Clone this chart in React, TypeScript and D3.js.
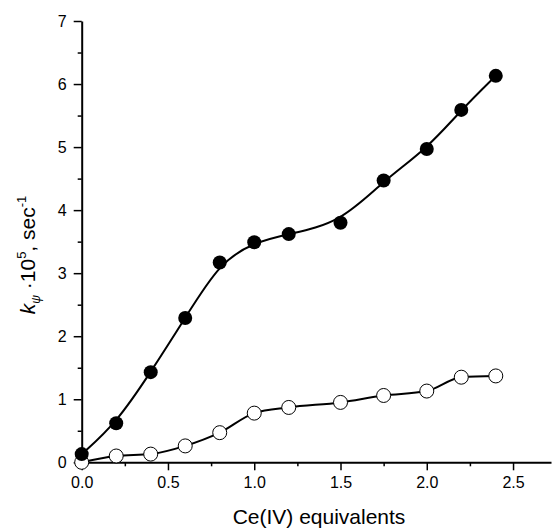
import React, { useEffect, useRef } from 'react';
import * as d3 from 'd3';

const xValues = [0, 0.2, 0.4, 0.6, 0.8, 1.0, 1.2, 1.5, 1.75, 2.0, 2.2, 2.4];
const filledValues = [0.13, 0.62, 1.43, 2.29, 3.17, 3.49, 3.62, 3.8, 4.47, 4.97, 5.59, 6.13];
const openValues = [0, 0.1, 0.13, 0.26, 0.47, 0.78, 0.87, 0.95, 1.06, 1.13, 1.35, 1.37];
const xTicks = [0, 0.5, 1.0, 1.5, 2.0, 2.5];
const xMinorTicks = [0.25, 0.75, 1.25, 1.75, 2.25];
const yTicks = [0, 1, 2, 3, 4, 5, 6, 7];
const yMinorTicks = [0.5, 1.5, 2.5, 3.5, 4.5, 5.5, 6.5];

const Chart = () => {
  const chartRef = useRef<SVGSVGElement>(null);

  useEffect(() => {
    const svg = d3.select(chartRef.current);
    svg.selectAll('*').remove();
    const font = 'Arial, "Liberation Sans", sans-serif';

    const xScale = d3.scaleLinear().domain([0, 2.72]).range([81.7, 551]);
    const yScale = d3.scaleLinear().domain([0, 7]).range([462.3, 21]);

    // minor ticks
    svg.append('g')
      .attr('transform', `translate(0,${yScale(0)})`)
      .call(d3.axisBottom(xScale).tickValues(xMinorTicks).tickSize(4).tickFormat(() => '').tickSizeOuter(0))
      .call(g => g.select('.domain').remove());
    svg.append('g')
      .attr('transform', `translate(${xScale(0)},0)`)
      .call(d3.axisLeft(yScale).tickValues(yMinorTicks).tickSize(4).tickFormat(() => '').tickSizeOuter(0))
      .call(g => g.select('.domain').remove());

    // major axes
    const xAxis = svg.append('g')
      .attr('transform', `translate(0,${yScale(0)})`)
      .call(d3.axisBottom(xScale).tickValues(xTicks).tickSize(8).tickPadding(6).tickSizeOuter(0).tickFormat(d3.format('.1f')));
    const yAxis = svg.append('g')
      .attr('transform', `translate(${xScale(0)},0)`)
      .call(d3.axisLeft(yScale).tickValues(yTicks).tickSize(8).tickPadding(7).tickSizeOuter(0).tickFormat(d3.format('d')));

    [xAxis, yAxis].forEach(g => {
      g.selectAll('text').attr('font-size', 16).attr('font-family', font).attr('fill', '#000');
    });
    svg.selectAll('.tick line').attr('stroke', '#000').attr('stroke-width', 1.5);
    svg.selectAll('.domain').attr('stroke', '#000').attr('stroke-width', 2);

    const filled = xValues.map((x, i) => [x, filledValues[i]] as [number, number]);
    const open = xValues.map((x, i) => [x, openValues[i]] as [number, number]);

    const line = d3.line<[number, number]>()
      .x(d => xScale(d[0]))
      .y(d => yScale(d[1]));

    // open series
    svg.append('path')
      .datum(open)
      .attr('fill', 'none')
      .attr('stroke', '#000')
      .attr('stroke-width', 2)
      .attr('d', line.curve(d3.curveMonotoneX));
    svg.append('g')
      .selectAll('circle')
      .data(open)
      .join('circle')
      .attr('cx', d => xScale(d[0]))
      .attr('cy', d => yScale(d[1]))
      .attr('r', 7)
      .attr('fill', '#fff')
      .attr('stroke', '#000')
      .attr('stroke-width', 1);

    // filled series
    svg.append('path')
      .datum(filled)
      .attr('fill', 'none')
      .attr('stroke', '#000')
      .attr('stroke-width', 2)
      .attr('d', line.curve(d3.curveBasis));
    svg.append('g')
      .selectAll('circle')
      .data(filled)
      .join('circle')
      .attr('cx', d => xScale(d[0]))
      .attr('cy', d => yScale(d[1]))
      .attr('r', 7)
      .attr('fill', '#000');

    // x title
    svg.append('text')
      .attr('x', 319)
      .attr('y', 524)
      .attr('text-anchor', 'middle')
      .attr('font-size', 21)
      .attr('font-family', font)
      .text('Ce(IV) equivalents');

    // y title
    const yt = svg.append('text')
      .attr('transform', 'translate(35,255) rotate(-90)')
      .attr('text-anchor', 'middle')
      .attr('font-size', 21)
      .attr('font-family', font);
    yt.append('tspan').attr('font-style', 'italic').text('k');
    yt.append('tspan').attr('font-size', 12).attr('font-style', 'italic').attr('dy', 5).text('ψ');
    yt.append('tspan').attr('dy', -5).text(' ·10');
    yt.append('tspan').attr('font-size', 13).attr('dy', -9).text('5');
    yt.append('tspan').attr('dy', 9).text(', sec');
    yt.append('tspan').attr('font-size', 13).attr('dy', -9).text('-1');
  }, []);

  return (
    <svg ref={chartRef} width={553} height={529} style={{ position: 'absolute', left: 0, top: 0, background: '#fff' }}></svg>
  );
};

export default function App() {
  return <Chart />;
}
